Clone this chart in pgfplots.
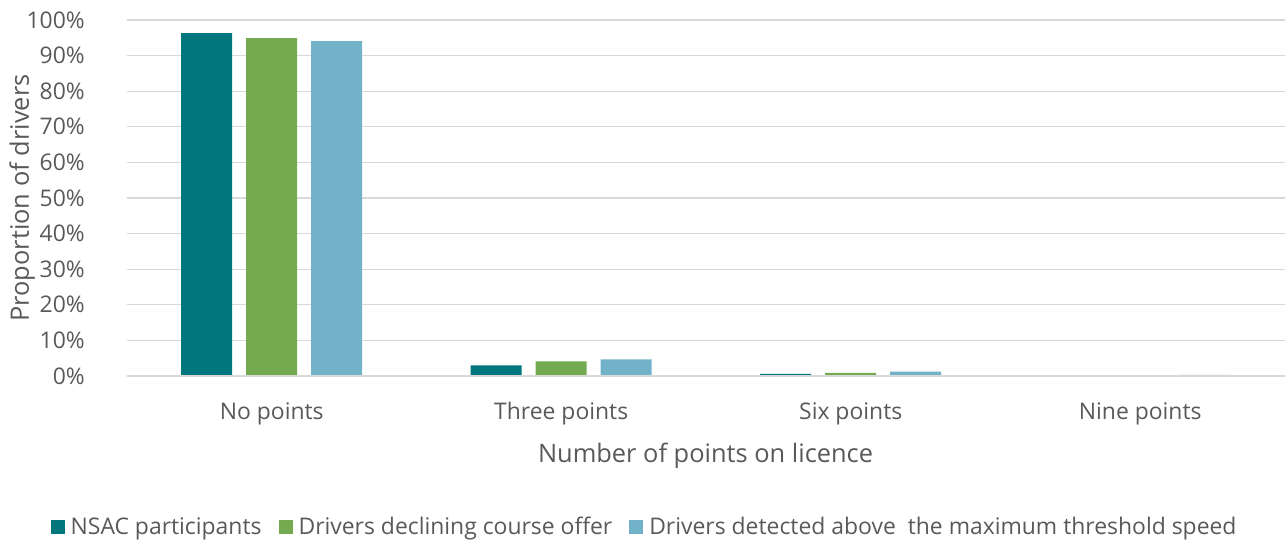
\documentclass[border=0pt]{standalone}
\usepackage{pgfplots}
\pgfplotsset{compat=1.18}
\usepackage{fontspec}
\setmainfont{Open Sans}
\definecolor{tealc}{HTML}{00777C}
\definecolor{greenc}{HTML}{74AA50}
\definecolor{bluec}{HTML}{71B2C9}
\definecolor{txt}{HTML}{595959}
\definecolor{gridc}{HTML}{D9D9D9}
\begin{document}
\begin{tikzpicture}
\path[use as bounding box] (-127bp,-166bp) rectangle (1160bp,376bp);
\begin{axis}[
  scale only axis,
  width=1158bp, height=356bp,
  ybar=14bp, bar width=51bp,
  xmin=-0.5, xmax=3.5,
  ymin=0, ymax=100,
  xtick={0,1,2,3},
  xticklabels={No points, Three points, Six points, Nine points},
  ytick={0,10,...,100},
  yticklabel={\pgfmathprintnumber{\tick}\%},
  /pgf/number format/assume math mode=true,
  major tick length=0pt,
  axis lines*=left,
  axis line style={draw=none},
  ymajorgrids,
  grid style={gridc, line width=1.3bp},
  tick label style={font=\fontsize{23}{25}\selectfont, text=txt},
  xticklabel style={anchor=center, yshift=-38bp},
  yticklabel style={anchor=east, inner sep=0pt, xshift=-42bp},
  xlabel={Number of points on licence},
  ylabel={Proportion of drivers},
  label style={font=\fontsize{25.5}{28}\selectfont, text=txt},
  xlabel style={at={(axis description cs:0.4996,-0.225)}, anchor=center},
  ylabel style={at={(axis description cs:-0.0905,0.5)}, anchor=center, rotate=0},
  legend columns=3,
  legend style={draw=none, fill=none, font=\fontsize{23}{25}\selectfont, text=txt,
    at={(axis description cs:0.447,-0.424)}, anchor=center,
    /tikz/every odd column/.append style={column sep=4bp},
    /tikz/every even column/.append style={column sep=15bp}},
  legend image code/.code={\fill[#1] (0bp,-7bp) rectangle (14bp,7bp);},
  clip=false,
]
\addplot[fill=tealc, draw=none] coordinates {(0,96.3) (1,3.0) (2,0.6) (3,0.25)};
\addplot[fill=greenc, draw=none] coordinates {(0,94.9) (1,4.1) (2,0.9) (3,0.25)};
\addplot[fill=bluec, draw=none] coordinates {(0,94.1) (1,4.7) (2,1.2) (3,0.3)};
\draw[gridc, line width=1.3bp] (axis cs:-0.5,0) -- (axis cs:3.5,0);
\legend{NSAC participants, Drivers declining course offer, Drivers detected above\ \ the maximum threshold speed}
\end{axis}
\end{tikzpicture}
\end{document}
